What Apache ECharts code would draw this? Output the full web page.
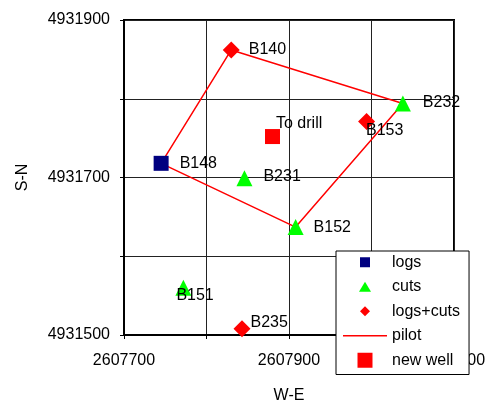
<!DOCTYPE html>
<html><head><meta charset="utf-8">
<script src="https://cdn.jsdelivr.net/npm/echarts@6/dist/echarts.min.js"></script>
<style>html,body{margin:0;padding:0;background:#fff}#c{width:489px;height:403px}</style>
</head><body><div id="c"></div>
<script>
// ---- data ----
const logsNames = ['B148'];
const logsX = [2607745];
const logsY = [4931718];

const cutsNames = ['B232', 'B231', 'B152', 'B151'];
const cutsX = [2608038, 2607846, 2607908, 2607772];
const cutsY = [4931794, 4931699, 4931637, 4931560];

const logsCutsNames = ['B140', 'B153', 'B235'];
const logsCutsX = [2607830, 2607994, 2607843];
const logsCutsY = [4931862, 4931771, 4931508];

const newWellNames = ['To drill'];
const newWellX = [2607880];
const newWellY = [4931752];

const pilotOrder = ['B148', 'B140', 'B232', 'B152', 'B148'];

const xTicks = [2607700, 2607900, 2608100];
const yTicks = [4931500, 4931700, 4931900];

const legendNames = ['logs', 'cuts', 'logs+cuts', 'pilot', 'new well'];

// ---- styling (kept apart from data) ----
const FONT = 'Liberation Sans, Arial, sans-serif';
const labelOffsets = {
  'B148': [11, 0], 'B140': [9, 0], 'B232': [12, -1], 'B153': [-9, 9],
  'To drill': [-4, -13], 'B231': [11, -2], 'B152': [10, 0], 'B151': [-15, 8],
  'B235': [0, -6]
};

function pts(names, xs, ys) {
  return names.map((n, i) => ({
    name: n, value: [xs[i], ys[i]],
    label: { offset: labelOffsets[n] || [0, 0] }
  }));
}
const lookup = {};
[[logsNames, logsX, logsY], [cutsNames, cutsX, cutsY], [logsCutsNames, logsCutsX, logsCutsY]]
  .forEach(([n, xs, ys]) => n.forEach((nm, i) => lookup[nm] = [xs[i], ys[i]]));
const pilotData = pilotOrder.map(n => lookup[n]);

const lbl = { show: true, formatter: '{b}', position: 'right', distance: 0,
  fontSize: 16, fontFamily: FONT, color: '#000' };

const chart = echarts.init(document.getElementById('c'), null, { renderer: 'canvas' });
chart.setOption({
  animation: false,
  backgroundColor: '#fff',
  textStyle: { fontFamily: FONT },
  grid: { left: 124, top: 20, width: 330, height: 315, show: true,
    containLabel: false, outerBoundsMode: 'none',
    borderColor: '#000', borderWidth: 2, backgroundColor: 'transparent' },
  xAxis: {
    type: 'value', min: 2607700, max: 2608100, interval: 100,
    name: 'W-E', nameLocation: 'middle', nameGap: 53,
    nameTextStyle: { fontSize: 16, color: '#000', fontFamily: FONT },
    axisLine: { show: true, lineStyle: { color: '#000', width: 2 } },
    axisTick: { show: true, length: 4, lineStyle: { color: '#000' } },
    axisLabel: { margin: 18, fontSize: 16, color: '#000', fontFamily: FONT,
      formatter: v => xTicks.includes(v) ? String(v) : '' },
    splitLine: { show: true, lineStyle: { color: '#222', width: 1 } }
  },
  yAxis: {
    type: 'value', min: 4931500, max: 4931900, interval: 100,
    name: 'S-N', nameLocation: 'middle', nameGap: 93, nameRotate: 90,
    nameTextStyle: { fontSize: 16, color: '#000', fontFamily: FONT },
    axisLine: { show: true, lineStyle: { color: '#000', width: 2 } },
    axisTick: { show: true, length: 4, lineStyle: { color: '#000' } },
    axisLabel: { margin: 14, fontSize: 16, color: '#000', fontFamily: FONT,
      formatter: v => yTicks.includes(v) ? String(v) : '' },
    splitLine: { show: true, lineStyle: { color: '#222', width: 1 } }
  },
  legend: {
    orient: 'vertical', left: 336, top: 251,
    padding: [3, 9, 6, 7],
    itemWidth: 44, itemHeight: 16, itemGap: 8,
    backgroundColor: '#fff', borderColor: '#000', borderWidth: 1,
    textStyle: { fontSize: 16, color: '#000', fontFamily: FONT, lineHeight: 16.5 },
    symbolKeepAspect: true,
    data: [
      { name: legendNames[0], icon: 'path://M0,0M16,16M3,3h10v10h-10z' },
      { name: legendNames[1], icon: 'path://M0,0M16,16M8,3L14,13L2,13z' },
      { name: legendNames[2], icon: 'path://M0,0M16,16M8,3L13,8L8,13L3,8z' },
      { name: legendNames[3], icon: 'path://M0,0M44,16M0,7.25h44v1.5h-44z' },
      { name: legendNames[4], icon: 'path://M0,0M16,16M0.5,0.5h15v15h-15z' }
    ]
  },
  series: [
    { name: legendNames[3], type: 'line', data: pilotData, symbol: 'none', z: 1,
      lineStyle: { color: '#ff0000', width: 1.5 }, itemStyle: { color: '#ff0000' } },
    { name: legendNames[0], type: 'scatter', symbol: 'rect', symbolSize: 15, z: 3,
      itemStyle: { color: '#000080', opacity: 1 }, label: lbl,
      data: pts(logsNames, logsX, logsY) },
    { name: legendNames[1], type: 'scatter', symbol: 'triangle', symbolSize: 16, z: 3,
      itemStyle: { color: '#00ff00', opacity: 1 }, label: lbl,
      data: pts(cutsNames, cutsX, cutsY) },
    { name: legendNames[2], type: 'scatter', symbol: 'diamond', symbolSize: 17, z: 3,
      itemStyle: { color: '#ff0000', opacity: 1 }, label: lbl,
      data: pts(logsCutsNames, logsCutsX, logsCutsY) },
    { name: legendNames[4], type: 'scatter', symbol: 'rect', symbolSize: 15, z: 3,
      itemStyle: { color: '#ff0000', opacity: 1 }, label: lbl,
      data: pts(newWellNames, newWellX, newWellY) }
  ]
});
</script></body></html>
